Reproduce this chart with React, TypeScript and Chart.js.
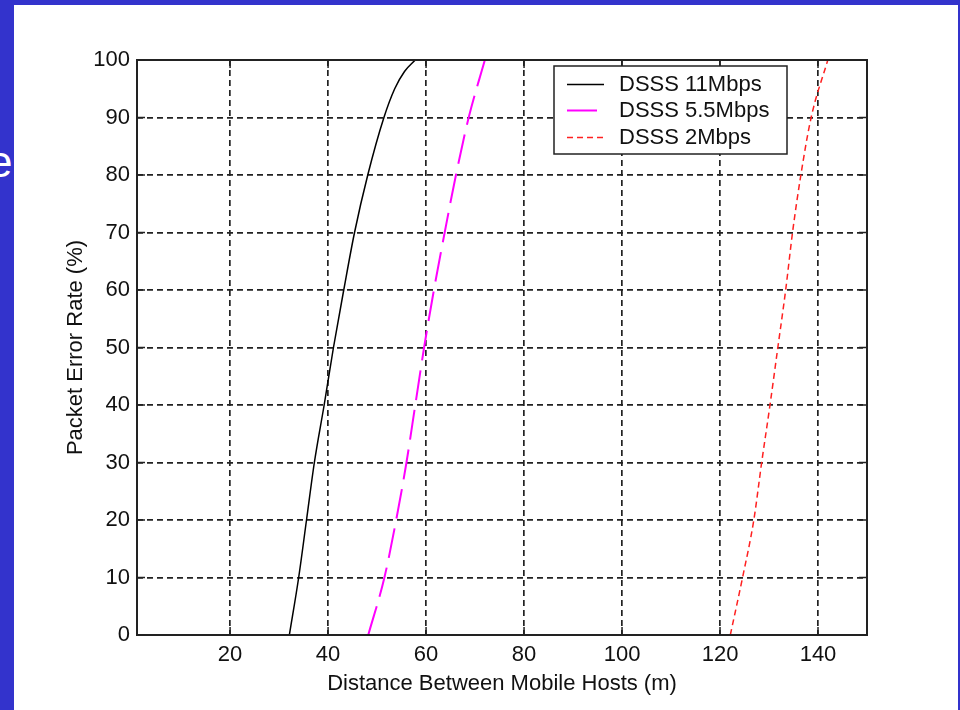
import React, { useEffect, useRef } from "react";
import { Chart, registerables } from "chart.js";

Chart.register(...registerables);

// ---- data ----
const xTickValues = [20, 40, 60, 80, 100, 120, 140];
const seriesNames = ["DSSS 11Mbps", "DSSS 5.5Mbps", "DSSS 2Mbps"];

const per11 = [0, 10, 20, 30, 40, 50, 60, 70, 80, 90, 95, 98, 100];
const dist11 = [32.1, 34.0, 35.6, 37.2, 39.2, 41.1, 43.2, 45.4, 48.1, 51.4, 53.6, 55.6, 57.8];

const per55 = [0, 10, 20, 30, 40, 50, 60, 70, 80, 90, 100];
const dist55 = [48.2, 51.5, 53.9, 56.0, 57.8, 59.6, 61.6, 63.8, 66.1, 68.7, 72.0];

const per2 = [0, 10, 20, 30, 40, 50, 60, 70, 80, 90, 100];
const dist2 = [122.1, 124.6, 126.9, 128.5, 130.2, 131.8, 133.4, 134.8, 136.5, 138.6, 142.0];

const FONT = "'Liberation Sans', Arial, sans-serif";

const toPoints = (xs: number[], ys: number[]) => xs.map((x, i) => ({ x, y: ys[i] }));

const styles = [
  { color: "#000000", width: 1.5, dash: [] as number[] },
  { color: "#ff00ff", width: 2, dash: [30, 10] },
  { color: "#ff2020", width: 1.5, dash: [6, 4] },
];

const framePlugin = {
  id: "frame",
  afterDraw(chart: any) {
    const { ctx, chartArea } = chart;
    const { left, right, top, bottom } = chartArea;
    const xs = chart.scales.x;
    const ys = chart.scales.y;
    ctx.save();
    ctx.strokeStyle = "#222";
    ctx.lineWidth = 2;
    ctx.setLineDash([]);
    ctx.strokeRect(left, top, right - left, bottom - top);
    // inward ticks
    ctx.lineWidth = 1.5;
    const tl = 8;
    ctx.beginPath();
    xs.ticks.forEach((t: any) => {
      const px = xs.getPixelForValue(t.value);
      ctx.moveTo(px, bottom);
      ctx.lineTo(px, bottom - tl);
      ctx.moveTo(px, top);
      ctx.lineTo(px, top + tl);
    });
    ys.ticks.forEach((t: any) => {
      const py = ys.getPixelForValue(t.value);
      ctx.moveTo(left, py);
      ctx.lineTo(left + tl, py);
      ctx.moveTo(right, py);
      ctx.lineTo(right - tl, py);
    });
    ctx.stroke();

    // legend
    const bw = 233;
    const bh = 88;
    const bx = right - 80 - bw;
    const by = top + 6;
    ctx.fillStyle = "#fff";
    ctx.fillRect(bx, by, bw, bh);
    ctx.strokeStyle = "#222";
    ctx.lineWidth = 1.5;
    ctx.strokeRect(bx, by, bw, bh);
    const rows = [18.5, 44.5, 71.5];
    ctx.font = `22px ${FONT}`;
    ctx.textBaseline = "middle";
    ctx.textAlign = "left";
    seriesNames.forEach((name, i) => {
      const st = styles[i];
      const ry = by + rows[i];
      ctx.strokeStyle = st.color;
      ctx.lineWidth = st.width;
      ctx.setLineDash(st.dash);
      ctx.beginPath();
      ctx.moveTo(bx + 13, ry);
      ctx.lineTo(bx + 50, ry);
      ctx.stroke();
      ctx.setLineDash([]);
      ctx.fillStyle = "#111";
      ctx.fillText(name, bx + 65, ry);
    });
    ctx.restore();
  },
};

export default function App() {
  const ref = useRef<HTMLCanvasElement | null>(null);

  useEffect(() => {
    if (!ref.current) return;
    const seriesData = [toPoints(dist11, per11), toPoints(dist55, per55), toPoints(dist2, per2)];
    const chart = new Chart(ref.current, {
      type: "line",
      data: {
        datasets: seriesNames.map((name, i) => ({
          label: name,
          data: seriesData[i],
          borderColor: styles[i].color,
          borderWidth: styles[i].width,
          borderDash: styles[i].dash,
          pointRadius: 0,
          fill: false,
          cubicInterpolationMode: "monotone" as const,
        })),
      },
      options: {
        responsive: false,
        animation: false,
        layout: { padding: { top: 60, right: 93, bottom: 0, left: 0 } },
        plugins: {
          legend: { display: false },
          tooltip: { enabled: false },
        },
        scales: {
          x: {
            type: "linear",
            min: 1,
            max: 150,
            afterBuildTicks: (scale: any) => {
              scale.ticks = xTickValues.map((v) => ({ value: v }));
            },
            afterFit: (scale: any) => {
              scale.height = 75;
            },
            ticks: {
              color: "#111",
              font: { family: FONT, size: 22 },
              padding: 7,
              maxRotation: 0,
              autoSkip: false,
            },
            grid: {
              color: "#222",
              lineWidth: 1.7,
              drawTicks: false,
            },
            border: { display: false, dash: [6, 4] },
            title: {
              display: true,
              text: "Distance Between Mobile Hosts (m)",
              color: "#111",
              font: { family: FONT, size: 22 },
              padding: { top: 0, bottom: 13 },
            },
          },
          y: {
            type: "linear",
            min: 0,
            max: 100,
            afterFit: (scale: any) => {
              scale.width = 137;
            },
            ticks: {
              stepSize: 10,
              color: "#111",
              font: { family: FONT, size: 22 },
              padding: 7,
            },
            grid: {
              color: "#222",
              lineWidth: 1.7,
              drawTicks: false,
            },
            border: { display: false, dash: [6, 4] },
            title: {
              display: true,
              text: "Packet Error Rate (%)",
              color: "#111",
              font: { family: FONT, size: 22 },
              padding: { top: 63, bottom: 0 },
            },
          },
        },
      },
      plugins: [framePlugin],
    });
    return () => chart.destroy();
  }, []);

  return (
    <div
      style={{
        position: "fixed",
        left: 0,
        top: 0,
        width: 960,
        height: 710,
        background: "#3333cc",
        overflow: "hidden",
      }}
    >
      <div
        style={{
          position: "absolute",
          left: -12,
          top: 140,
          fontFamily: FONT,
          fontSize: 44,
          color: "#fff",
          lineHeight: 1,
        }}
      >
        e
      </div>
      <div
        style={{
          position: "absolute",
          left: 14,
          top: 5,
          width: 944,
          height: 705,
          background: "#fff",
        }}
      />
      <canvas
        ref={ref}
        width={960}
        height={710}
        style={{ position: "absolute", left: 0, top: 0, width: 960, height: 710 }}
      />
    </div>
  );
}
